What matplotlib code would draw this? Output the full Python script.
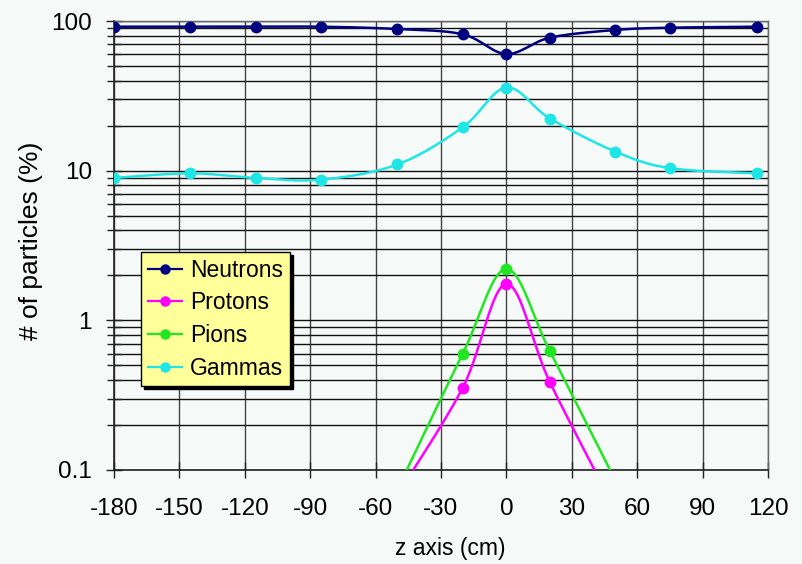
import numpy as np
import matplotlib
matplotlib.use("Agg")
import matplotlib.pyplot as plt
from matplotlib.ticker import LogLocator, FixedLocator, NullFormatter, FixedFormatter

# ---- data ----
x_main = [-180, -145, -115, -85, -50, -20, 0, 20, 50, 75, 115]
neutrons = [91.6, 91.6, 91.6, 91.6, 88.4, 81.5, 60.2, 77.4, 87.1, 90.2, 91.6]
gammas = [8.94, 9.6, 8.94, 8.71, 11.0, 19.5, 35.9, 22.3, 13.4, 10.4, 9.6]
x_had = [-50, -20, 0, 20, 50]
protons = [0.068, 0.355, 1.75, 0.385, 0.054]
pions = [0.074, 0.60, 2.2, 0.62, 0.085]

x_ticks = [-180, -150, -120, -90, -60, -30, 0, 30, 60, 90, 120]
x_ticklabels = ["-180", "-150", "-120", "-90", "-60", "-30", "0", "30", "60", "90", "120"]
y_ticks = [0.1, 1, 10, 100]
y_ticklabels = ["0.1", "1", "10", "100"]

series = [
    ("Neutrons", x_main, neutrons, "#000080"),
    ("Protons", x_had, protons, "#ff00ff"),
    ("Pions", x_had, pions, "#22e622"),
    ("Gammas", x_main, gammas, "#1ee6e6"),
]


def smooth(x, y, n=40):
    """Excel-style smoothed line (Catmull-Rom Bezier) in (x, log y) space."""
    p = np.column_stack([np.asarray(x, float), np.log10(np.asarray(y, float))])
    k = len(p)
    xs, ls = [], []
    t = np.linspace(0, 1, n)[:, None]
    for i in range(k - 1):
        p0 = p[max(i - 1, 0)]
        p1 = p[i]
        p2 = p[i + 1]
        p3 = p[min(i + 2, k - 1)]
        c1 = p1 + (p2 - p0) / 6.0
        c2 = p2 - (p3 - p1) / 6.0
        b = ((1 - t) ** 3) * p1 + 3 * ((1 - t) ** 2) * t * c1 + 3 * (1 - t) * t ** 2 * c2 + t ** 3 * p2
        xs.append(b[:, 0])
        ls.append(b[:, 1])
    return np.concatenate(xs), 10 ** np.concatenate(ls)


plt.rcParams['font.family'] = ['Liberation Sans', 'DejaVu Sans']
plt.rcParams['axes.unicode_minus'] = False
bg = "#f5f9f7"
fig = plt.figure(figsize=(8.02, 5.64), dpi=100, facecolor=bg)
ax = fig.add_axes([114 / 802, 1 - 470 / 564, (768 - 114) / 802, (470 - 21) / 564])
ax.set_facecolor(bg)

ax.set_yscale("log")
ax.set_xlim(-180, 120)
ax.set_ylim(0.1, 100)

# grid
ax.yaxis.set_major_locator(FixedLocator(y_ticks))
ax.yaxis.set_major_formatter(FixedFormatter(y_ticklabels))
ax.yaxis.set_minor_locator(LogLocator(base=10, subs=np.arange(2, 10), numticks=20))
ax.yaxis.set_minor_formatter(NullFormatter())
ax.xaxis.set_major_locator(FixedLocator(x_ticks))
ax.xaxis.set_major_formatter(FixedFormatter(x_ticklabels))
ax.grid(True, which="both", axis="y", color="#111111", linewidth=1.0)
ax.grid(True, which="major", axis="x", color="#444444", linewidth=1.0)
ax.set_axisbelow(True)

for name, xv, yv, col in series:
    sx, sy = smooth(xv, yv)
    ax.plot(sx, sy, color=col, linewidth=1.8, zorder=3)
    ax.plot(xv, yv, linestyle="none", marker="o", markersize=7.5, color=col, zorder=4)

# legend handles
handles = [plt.Line2D([], [], color=c, linewidth=1.6, marker="o", markersize=6.5) for _, _, _, c in series]
labels = [s[0] for s in series]
leg = ax.legend(handles, labels, loc="lower left", bbox_to_anchor=(0.041, 0.186),
                fontsize=16.5, frameon=True, fancybox=False, shadow={'color': 'black', 'alpha': 1.0},
                borderaxespad=0, handlelength=1.5, handletextpad=0.35, labelspacing=0.42,
                borderpad=0.3)
leg.get_frame().set_facecolor("#ffff99")
leg.get_frame().set_edgecolor("black")
leg.get_frame().set_linewidth(1.0)
leg.get_frame().set_alpha(1.0)

# spines
for s in ["top", "right"]:
    ax.spines[s].set_color("#666666")
    ax.spines[s].set_linewidth(1.0)
for s in ["left", "bottom"]:
    ax.spines[s].set_color("#222222")
    ax.spines[s].set_linewidth(1.2)

ax.tick_params(axis="both", which="major", direction="inout", length=12, width=1.0, color="#222222",
               labelsize=17.5)
ax.tick_params(axis="y", which="minor", direction="inout", length=10, width=1.0, color="#222222")
ax.tick_params(axis="x", which="major", pad=14)
ax.tick_params(axis="y", which="major", pad=10)

fig.text(450 / 802, 1 - 549 / 564, "z axis (cm)", ha="center", va="center", fontsize=16.5)
fig.text(31 / 802, 1 - 241 / 564, "# of particles (%)", ha="center", va="center", rotation=90, fontsize=19)

fig.savefig("out.png", dpi=100, facecolor=bg)
